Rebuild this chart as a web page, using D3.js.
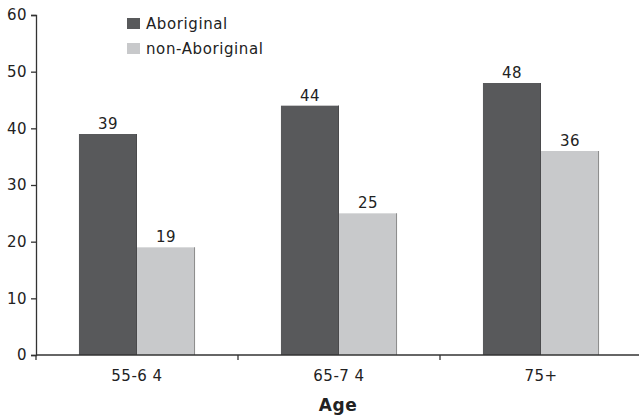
<!DOCTYPE html>
<html>
<head>
<meta charset="utf-8">
<script src="https://cdn.jsdelivr.net/npm/d3@7"></script>
<style>
  body { margin: 0; background: #fff; }
  text { font-family: "DejaVu Sans", Verdana, sans-serif; fill: #222; }
</style>
</head>
<body>
<div id="chart"></div>
<script>
// data
var categories = ['55-6 4', '65-7 4', '75+'];
var seriesNames = ['Aboriginal', 'non-Aboriginal'];
var aboriginal = [39, 44, 48];
var nonAboriginal = [19, 25, 36];
var yTicks = [0, 10, 20, 30, 40, 50, 60];

var colors = ['#58595b', '#c8c9cb'];
var w = 639, h = 420;

var svg = d3.select('#chart').append('svg')
  .attr('width', w)
  .attr('height', h);

var x0 = d3.scaleBand().domain(categories).range([36, 642]).padding(0);
var x1 = d3.scaleBand().domain(seriesNames).range([0, x0.bandwidth()])
  .paddingInner(0).paddingOuter(0.74);
var y = d3.scaleLinear().domain([0, 60]).range([355, 15]);

var rows = categories.map(function(c, i) {
  return { cat: c, vals: [aboriginal[i], nonAboriginal[i]] };
});

var groups = svg.selectAll('g.grp')
  .data(rows)
  .enter().append('g')
  .attr('class', 'grp')
  .attr('transform', function(d) { return 'translate(' + x0(d.cat) + ',0)'; });

function pieces(d) {
  return d.vals.map(function(v, j) { return { s: seriesNames[j], v: v, j: j }; });
}

groups.selectAll('rect')
  .data(pieces)
  .enter().append('rect')
  .attr('x', function(d) { return x1(d.s); })
  .attr('y', function(d) { return y(d.v); })
  .attr('width', x1.bandwidth())
  .attr('height', function(d) { return y(0) - y(d.v); })
  .attr('fill', function(d) { return colors[d.j]; });

// thin right edge on the bars
groups.selectAll('line.edge')
  .data(pieces)
  .enter().append('line')
  .attr('class', 'edge')
  .attr('x1', function(d) { return x1(d.s) + x1.bandwidth() - 0.5; })
  .attr('x2', function(d) { return x1(d.s) + x1.bandwidth() - 0.5; })
  .attr('y1', function(d) { return y(d.v); })
  .attr('y2', y(0))
  .attr('stroke', function(d) { return d.j ? '#8c8c8c' : '#4a4a4c'; })
  .attr('stroke-width', 1);

groups.selectAll('text.val')
  .data(pieces)
  .enter().append('text')
  .attr('class', 'val')
  .attr('x', function(d) { return x1(d.s) + x1.bandwidth() / 2; })
  .attr('y', function(d) { return y(d.v) - 5; })
  .attr('text-anchor', 'middle')
  .attr('font-size', 15)
  .attr('letter-spacing', 0.4)
  .text(function(d) { return d.v; });

// y axis
var yAxis = d3.axisLeft(y).tickValues(yTicks).tickSize(5).tickPadding(4);
var gy = svg.append('g').attr('transform', 'translate(36,0)').call(yAxis);
gy.attr('font-size', 15).attr('font-family', null);
gy.selectAll('text').attr('fill', '#222').attr('letter-spacing', 0.4);
gy.select('.domain').attr('stroke', '#333').attr('stroke-width', 1.3);
gy.selectAll('.tick line').attr('stroke', '#333').attr('stroke-width', 1.3);

// x axis: line, boundary ticks, labels
svg.append('line')
  .attr('x1', 36).attr('x2', w)
  .attr('y1', y(0)).attr('y2', y(0))
  .attr('stroke', '#333').attr('stroke-width', 1.5);

var bounds = categories.map(function(c) { return x0(c); });
svg.selectAll('line.xt')
  .data(bounds)
  .enter().append('line')
  .attr('class', 'xt')
  .attr('x1', function(d) { return d; }).attr('x2', function(d) { return d; })
  .attr('y1', y(0)).attr('y2', y(0) + 5)
  .attr('stroke', '#333').attr('stroke-width', 1.3);

svg.selectAll('text.cat')
  .data(categories)
  .enter().append('text')
  .attr('class', 'cat')
  .attr('x', function(d) { return x0(d) + x0.bandwidth() / 2; })
  .attr('y', 381)
  .attr('text-anchor', 'middle')
  .attr('font-size', 15)
  .attr('letter-spacing', 0.5)
  .text(function(d) { return d; });

svg.append('text')
  .attr('x', 338)
  .attr('y', 411)
  .attr('text-anchor', 'middle')
  .attr('font-size', 17)
  .attr('font-weight', 'bold')
  .attr('letter-spacing', 0.5)
  .text('Age');

// legend
var legend = svg.selectAll('g.leg')
  .data(seriesNames)
  .enter().append('g')
  .attr('class', 'leg')
  .attr('transform', function(d, i) { return 'translate(127,' + (18 + i * 25) + ')'; });

legend.append('rect')
  .attr('width', 13).attr('height', 11)
  .attr('fill', function(d, i) { return colors[i]; });

legend.append('text')
  .attr('x', 19)
  .attr('y', 10.5)
  .attr('font-size', 15)
  .attr('letter-spacing', 0.6)
  .text(function(d) { return d; });
</script>
</body>
</html>
